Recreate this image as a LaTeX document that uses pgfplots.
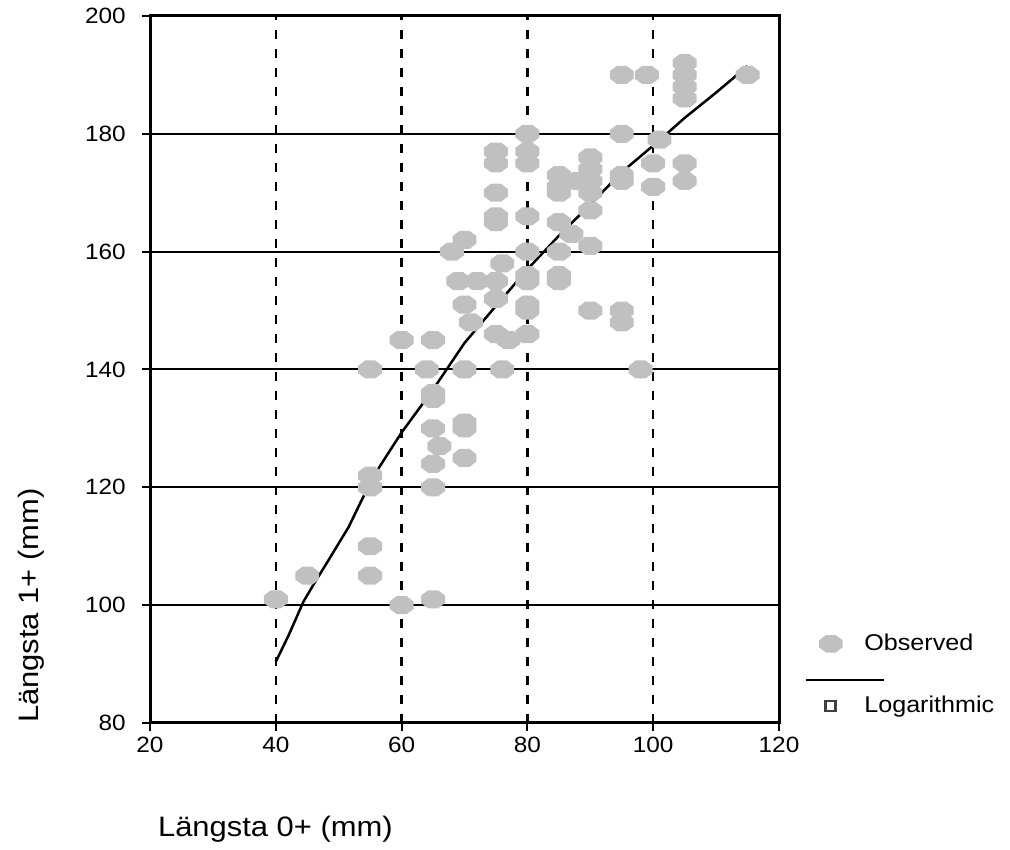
\documentclass[border=0pt]{standalone}
\usepackage{fontspec}
\setmainfont{Liberation Sans}[FakeStretch=1.1]
\usepackage{pgfplots}
\pgfplotsset{compat=1.18}
\definecolor{obsgray}{RGB}{192,192,192}
\definecolor{sqgray}{RGB}{64,64,64}

% flat-topped octagon marker
\pgfdeclareplotmark{octagon}{%
  \pgfpathmoveto{\pgfpointpolar{22.5}{\pgfplotmarksize}}%
  \pgfpathlineto{\pgfpointpolar{67.5}{\pgfplotmarksize}}%
  \pgfpathlineto{\pgfpointpolar{112.5}{\pgfplotmarksize}}%
  \pgfpathlineto{\pgfpointpolar{157.5}{\pgfplotmarksize}}%
  \pgfpathlineto{\pgfpointpolar{202.5}{\pgfplotmarksize}}%
  \pgfpathlineto{\pgfpointpolar{247.5}{\pgfplotmarksize}}%
  \pgfpathlineto{\pgfpointpolar{292.5}{\pgfplotmarksize}}%
  \pgfpathlineto{\pgfpointpolar{337.5}{\pgfplotmarksize}}%
  \pgfpathclose
  \pgfusepathqfill}

\begin{document}
\begin{tikzpicture}
\useasboundingbox (0,0) rectangle (20.2cm,17cm);
\begin{axis}[
  at={(3.0cm,2.54cm)}, anchor=south west,
  scale only axis, width=12.58cm, height=14.14cm,
  xmin=20, xmax=120, ymin=80, ymax=200,
  xtick={20,40,...,120}, ytick={80,100,...,200},
  /pgf/number format/assume math mode=true,
  tick align=outside, xtick pos=bottom, ytick pos=left,
  major tick length=0.16cm,
  tick style={black, line width=0.04cm},
  axis line style={black, line width=0.06cm},
  xmajorgrids, ymajorgrids,
  x grid style={black, line width=0.05cm, dash pattern=on 0.18cm off 0.2cm},
  y grid style={black, line width=0.04cm},
  ticklabel style={font=\fontsize{12.6}{14}\selectfont},
  yticklabel style={xshift=-0.2cm},
  xlabel={Längsta 0+ (mm)},
  ylabel={Längsta 1+ (mm)},
  label style={font=\fontsize{16}{19}\selectfont},
  xlabel style={at={(axis description cs:0.003,-0.161)}, anchor=base west},
  ylabel style={at={(axis description cs:-0.189,0.166)}, anchor=center},
  legend style={at={(rel axis cs:1.058,0.068)}, anchor=west, draw=none,
    fill=none, inner sep=0pt, font=\fontsize{13}{15}\selectfont, row sep=0.72cm},
  legend cell align=left,
  clip=false,
]
\addplot[only marks, mark=octagon, mark size=5.54pt,
  mark options={xscale=1.33, fill=obsgray, draw=none, color=obsgray},
  legend image code/.code={
    \path[draw=none, fill=none] (-0.3cm,-0.2cm) rectangle (0.6cm,0.2cm);
    \fill[obsgray, draw=none, xscale=1.33] (22.5:0.19cm) -- (67.5:0.19cm) -- (112.5:0.19cm)
      -- (157.5:0.19cm) -- (202.5:0.19cm) -- (247.5:0.19cm) -- (292.5:0.19cm)
      -- (337.5:0.19cm) -- cycle;
  }] coordinates {
  (40,101) (45,105)
  (55,140) (55,122) (55,120) (55,110) (55,105)
  (60,145) (60,100)
  (64,140) (65,145) (65,136) (65,135) (65,130) (66,127) (65,124) (65,120) (65,101)
  (68,160) (70,162) (69,155) (72,155) (70,151) (71,148) (70,140) (70,131) (70,130) (70,125)
  (75,177) (75,175) (75,170) (75,166) (75,165) (76,158) (75,155) (75,152) (75,146)
  (77,145) (76,140)
  (80,180) (80,177) (80,175) (80,166) (80,160) (80,156) (80,155) (80,151) (80,150) (80,146)
  (85,173) (85,171) (85,170) (85,165) (85,160) (85,156) (85,155)
  (87,163) (88,172)
  (90,176) (90,174) (90,172) (90,170) (90,167) (90,161) (90,150)
  (95,190) (95,180) (95,173) (95,172) (95,150) (95,148)
  (98,140) (99,190)
  (100,175) (100,171) (101,179)
  (105,192) (105,190) (105,188) (105,186) (105,175) (105,172)
  (115,190)
};
\addlegendentry{Observed}

\addplot[black, line width=0.05cm, no marks,
  legend image code/.code={
    \path[draw=none, fill=none] (-0.3cm,-0.2cm) rectangle (0.6cm,0.2cm);
    \draw[overlay, black, line width=0.045cm] (-0.5cm,0.52cm) -- (1.06cm,0.52cm);
    \draw[sqgray, fill=white, line width=0.055cm] (-0.1cm,-0.1cm) rectangle (0.1cm,0.1cm);
  }] coordinates {
  (40,90.4) (42,94.8) (44.4,100.6) (46,103.5) (48.7,108.2) (51.6,113.3)
  (53.5,117.5) (55.6,122) (58,126) (60,129.3) (65,136.6) (70,144.5)
  (75,150.8) (80,157) (85,162.7) (90,168) (95,173.5) (100,178)
  (105,182.7) (110,187) (115,191.5)
};
\addlegendentry{Logarithmic}
\end{axis}
\end{tikzpicture}
\end{document}
